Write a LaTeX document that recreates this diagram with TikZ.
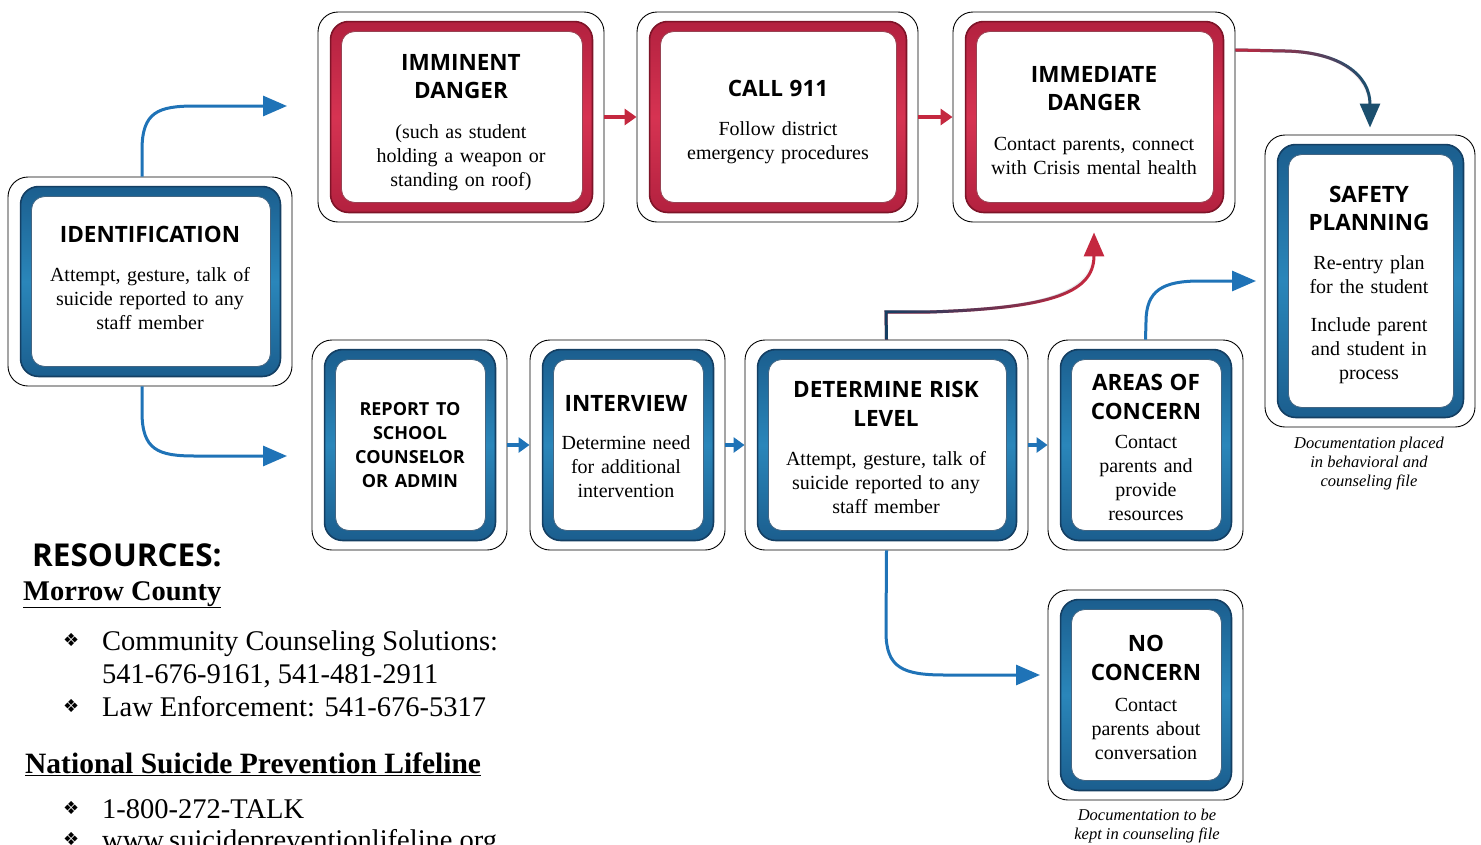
\documentclass[tikz,border=0pt]{standalone}
\usepackage{fontspec}
\setmainfont{Liberation Serif}
\setsansfont{Open Sans}
\newfontfamily\symfont{DejaVu Sans}
\usetikzlibrary{arrows.meta,fit,fadings}
\setlength\parindent{0pt}
\definecolor{bluedark}{HTML}{143F63}
\definecolor{bluemid}{HTML}{2A86BA}
\definecolor{blueband}{HTML}{1B5E8E}
\definecolor{reddark}{HTML}{7E1428}
\definecolor{redmid}{HTML}{D63352}
\definecolor{redband}{HTML}{B3213F}
\definecolor{arrowblue}{HTML}{1F73B7}
\definecolor{arrowred}{HTML}{C4283F}
\definecolor{arrowteal}{HTML}{1B4F6E}
\tikzset{
  outerbox/.style={draw=black, line width=0.9pt, rounded corners=20pt, fill=white, inner sep=0pt},
  blueframe/.style={rounded corners=18pt, top color=blueband, bottom color=blueband, middle color=bluemid, draw=bluedark, line width=1.6pt},
  redframe/.style={rounded corners=18pt, top color=redband, bottom color=redband, middle color=redmid, draw=reddark, line width=1.6pt},
  blueinner/.style={rounded corners=13pt, fill=white, draw=bluedark!80, line width=0.8pt},
  redinner/.style={rounded corners=13pt, fill=white, draw=reddark!80, line width=0.8pt},
  boxtext/.style={anchor=north, text width=280pt, align=center, inner sep=0pt, font=\fontsize{20}{24}\selectfont},
  doctext/.style={anchor=north, align=center, inner sep=0pt, font=\itshape\fontsize{16.5}{19}\selectfont},
  bigarrow/.style={line width=3pt, -{Triangle[length=24pt,width=20pt]}},
  bluearrow/.style={bigarrow, draw=arrowblue},
  shortblue/.style={draw=arrowblue, line width=4pt, -{Triangle[length=11pt,width=15pt]}},
  shortred/.style={draw=arrowred, line width=4pt, -{Triangle[length=12pt,width=16pt]}},
  restext/.style={anchor=base west, inner sep=0pt, font=\fontsize{28.5}{33}\selectfont},
  bullet/.style={anchor=base west, inner sep=0pt, font=\symfont\fontsize{18}{20}\selectfont},
  reshead/.style={anchor=base west, inner sep=0pt, font=\bfseries\fontsize{28.5}{32}\selectfont},
}
\newcommand\hd[1]{{\sffamily\bfseries\fontsize{22.5}{28.5}\selectfont #1\par}}
\newcommand\hdsmall[1]{{\sffamily\bfseries\fontsize{18}{24}\selectfont #1\par}}
\newcommand\flowbox[6]{%
  \node[outerbox, fit={(#2,#3) (#4,#5)}] (#1) {};
  \path[#6frame] ([xshift=13pt,yshift=-10pt]#1.north west) rectangle ([xshift=-12pt,yshift=10pt]#1.south east);
  \path[#6inner] ([xshift=24pt,yshift=-20pt]#1.north west) rectangle ([xshift=-22pt,yshift=20pt]#1.south east);
}
\begin{document}
\begin{tikzpicture}[x=1pt,y=-1pt]
\useasboundingbox (0,0) rectangle (1481,844);
\clip (0,0) rectangle (1481,844);
\fill[white] (0,0) rectangle (1481,844);

% boxes
\flowbox{ident}{8}{177}{292}{386}{blue}
\flowbox{imm}{318}{12}{604}{222}{red}
\flowbox{call}{637}{12}{918}{222}{red}
\flowbox{immed}{953}{12}{1235}{222}{red}
\flowbox{safety}{1265}{135}{1475}{427}{blue}
\flowbox{report}{312}{340}{507}{550}{blue}
\flowbox{interview}{530}{340}{725}{550}{blue}
\flowbox{determine}{745}{340}{1028}{550}{blue}
\flowbox{areas}{1048}{340}{1243}{550}{blue}
\flowbox{nocon}{1048}{590}{1243}{800}{blue}

% box texts
\node[boxtext] (ident-t) at (150,226) {\hd{IDENTIFICATION}\vspace{15pt}Attempt, gesture, talk of\par suicide reported to any\par staff member};
\node[boxtext] (imm-t) at (461,54) {\hd{IMMINENT\par DANGER}\vspace{15.5pt}(such as student\par holding a weapon or\par standing on roof)};
\node[boxtext] (call-t) at (778,80) {\hd{CALL 911}\vspace{15.5pt}Follow district\par emergency procedures};
\node[boxtext] (immed-t) at (1094,66) {\hd{IMMEDIATE\par DANGER}\vspace{15.5pt}Contact parents, connect\par with Crisis mental health};
\node[boxtext] (safety-t) at (1369,186) {\hd{SAFETY\par PLANNING}\vspace{15pt}Re-entry plan\par for the student\par\vspace{14pt}Include parent\par and student in\par process};
\node[boxtext] (report-t) at (410,402.5) {\hdsmall{REPORT TO\par SCHOOL\par COUNSELOR\par OR ADMIN}};
\node[boxtext] (interview-t) at (626,395) {\hd{INTERVIEW}\vspace{14.5pt}Determine need\par for additional\par intervention};
\node[boxtext] (determine-t) at (886,381) {\hd{DETERMINE RISK\par LEVEL}\vspace{15.5pt}Attempt, gesture, talk of\par suicide reported to any\par staff member};
\node[boxtext] (areas-t) at (1146,374) {\hd{AREAS OF\par CONCERN}\vspace{5.5pt}Contact\par parents and\par provide\par resources};
\node[boxtext] (nocon-t) at (1146,635) {\hd{NO\par CONCERN}\vspace{7pt}Contact\par parents about\par conversation};

\node[doctext] (safety-doc) at (1369,437) {Documentation placed\\in behavioral and\\counseling file};
\node[doctext] (nocon-doc) at (1147,809) {Documentation to be\\kept in counseling file};

% connectors
\coordinate (a1end) at (287,106);
\coordinate (a2end) at (287,456);
\draw[bluearrow] ([xshift=-8pt]ident.north) -- (142,150) .. controls (142,112) and (158,106) .. (195,106) -- (a1end);
\draw[bluearrow] ([xshift=-8pt]ident.south) -- (142,412) .. controls (142,450) and (158,456) .. (195,456) -- (a2end);

\draw[shortred] (imm.east) -- (call.west);
\draw[shortred] (call.east) -- (immed.west);

\draw[shortblue] (report.east) -- (interview.west);
\draw[shortblue] (interview.east) -- (determine.west);
\draw[shortblue] (determine.east) -- (areas.west);

% immediate danger -> safety planning
\draw[bigarrow, draw=arrowteal] ([yshift=67pt]immed.east) -- (1285,51) .. controls (1340,52) and (1370,75) .. ([yshift=7pt]safety.north);
\draw[line width=3pt, draw=arrowred, path fading=east] ([yshift=67pt]immed.east) -- (1285,51) .. controls (1340,52) and (1370,75) .. (1370,110);

% determine -> immediate danger
\draw[bigarrow, draw=arrowred] (determine.north) -- (886,312) -- (930,312) .. controls (1045,308) and (1094,295) .. ([yshift=-10pt]immed.south);
\draw[line width=3pt, draw=bluedark, path fading=east] (determine.north) -- (886,312) -- (930,312) .. controls (1045,308) and (1094,295) .. (1094,250);

% areas -> safety
\coordinate (a8end) at (1256,281);
\draw[bluearrow] (areas.north) -- (1146,322) .. controls (1146,290) and (1163,281) .. (1200,281) -- (a8end);

% determine -> no concern
\coordinate (a9end) at (1040,675);
\draw[bluearrow] (determine.south) -- (886,632) .. controls (886,668) and (903,675) .. (945,675) -- (a9end);

% resources
\node[anchor=base west, inner sep=0pt, font=\sffamily\bfseries\fontsize{31.5}{36}\selectfont] (res) at (32,566) {RESOURCES:};
\node[reshead] (morrow) at (23,600) {\underline{Morrow County}};
\node[bullet] (b1) at (63,646) {❖};
\node[restext] (r1) at (102,650) {Community Counseling Solutions:};
\node[restext] (r2) at (102,683) {541-676-9161, 541-481-2911};
\node[bullet] (b2) at (63,712) {❖};
\node[restext] (r3) at (102,716) {Law Enforcement: 541-676-5317};
\node[reshead, font=\bfseries\fontsize{29.5}{32}\selectfont] (nat) at (25,773) {\underline{National Suicide Prevention Lifeline}};
\node[bullet] (b3) at (63,814) {❖};
\node[restext] (r4) at (102,818) {1-800-272-TALK};
\node[bullet] (b4) at (63,845) {❖};
\node[restext] (r5) at (102,849) {www.suicidepreventionlifeline.org};
\end{tikzpicture}
\end{document}
